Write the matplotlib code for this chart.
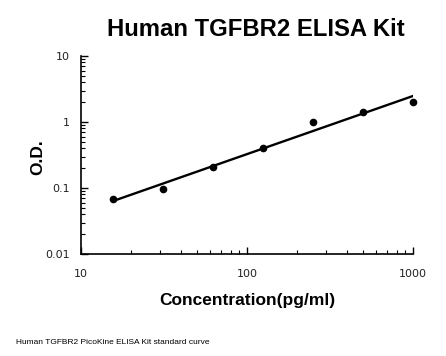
import numpy as np
import matplotlib
matplotlib.use("Agg")
import matplotlib.pyplot as plt
from matplotlib.ticker import LogLocator, FixedLocator, FixedFormatter, NullFormatter

# standard curve data
conc = [15.6, 31.25, 62.5, 125, 250, 500, 1000]
od = [0.067, 0.097, 0.208, 0.41, 0.99, 1.42, 1.99]

x_ticks = [10, 100, 1000]
x_tick_labels = ["10", "100", "1000"]
y_ticks = [0.01, 0.1, 1, 10]
y_tick_labels = ["0.01", "0.1", "1", "10"]

TITLE = "Human TGFBR2 ELISA Kit"
XLABEL = "Concentration(pg/ml)"
YLABEL = "O.D."
FOOTNOTE = "Human TGFBR2 PicoKine ELISA Kit standard curve"

W, H = 446, 356
fig = plt.figure(figsize=(W / 100, H / 100), dpi=100)
ax = fig.add_axes([81 / W, 1 - 254 / H, (413 - 81) / W, (254 - 56) / H])

# power trend line fitted in log-log space
lx, ly = np.log10(conc), np.log10(od)
k, b = np.polyfit(lx, ly, 1)
fit_x = np.array([conc[0], conc[-1]])
fit_y = 10 ** (k * np.log10(fit_x) + b)
ax.plot(fit_x, fit_y, color="black", linewidth=1.7, zorder=2)
ax.plot(conc, od, "o", color="black", markersize=4.5, zorder=3, clip_on=False)

ax.set_xscale("log")
ax.set_yscale("log")
ax.set_xlim(10, 1000)
ax.set_ylim(0.01, 10)

ax.xaxis.set_major_locator(FixedLocator(x_ticks))
ax.xaxis.set_major_formatter(FixedFormatter(x_tick_labels))
ax.yaxis.set_major_locator(FixedLocator(y_ticks))
ax.yaxis.set_major_formatter(FixedFormatter(y_tick_labels))
ax.xaxis.set_minor_locator(LogLocator(base=10, subs=np.arange(2, 10)))
ax.yaxis.set_minor_locator(LogLocator(base=10, subs=np.arange(2, 10)))
ax.xaxis.set_minor_formatter(NullFormatter())
ax.yaxis.set_minor_formatter(NullFormatter())

ax.tick_params(which="major", direction="in", length=5, width=1, labelsize=8,
               labelcolor="#222222")
ax.tick_params(axis="x", which="major", pad=11)
ax.tick_params(axis="y", which="major", pad=8)
ax.tick_params(which="minor", direction="in", length=3, width=0.8)
for s in ["top", "right"]:
    ax.spines[s].set_visible(False)
for s in ["left", "bottom"]:
    ax.spines[s].set_linewidth(1.2)

fig.text(256 / W, 1 - 30 / H, TITLE, ha="center", va="center",
         fontsize=17.2, fontweight="bold", family="Liberation Sans")
fig.text(247 / W, 1 - 301 / H, XLABEL, ha="center", va="center",
         fontsize=12.5, fontweight="bold", family="Liberation Sans")
fig.text(38 / W, 1 - 157 / H, YLABEL, ha="center", va="center", rotation=90,
         fontsize=12.5, fontweight="bold", family="Liberation Sans")
fig.text(16 / W, 1 - 342 / H, FOOTNOTE, ha="left", va="center",
         fontsize=6, family="Liberation Sans")

fig.savefig("out.png", dpi=100)
